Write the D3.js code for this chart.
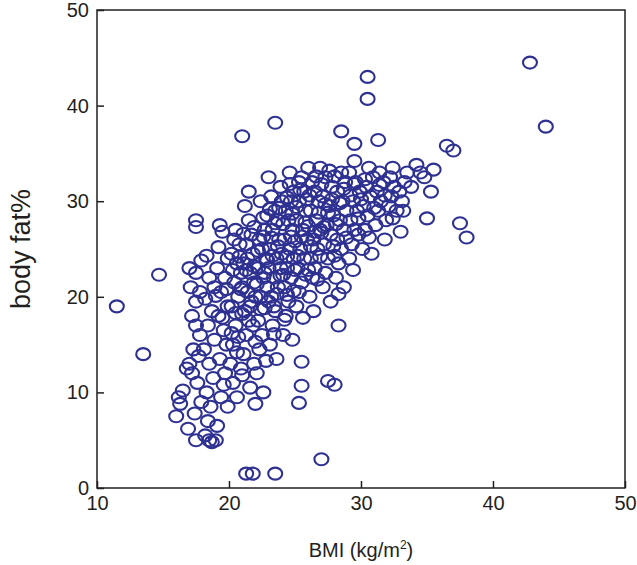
<!DOCTYPE html>
<html>
<head>
<script src="https://cdn.jsdelivr.net/npm/d3@7"></script>
<style>body{margin:0;background:#fff;} text{font-family:"Liberation Sans",Arial,sans-serif;fill:#231f20;}</style>
</head>
<body>
<svg id="chart" width="637" height="565"></svg>
<script>
// estimated readings (BMI, body fat%)
const outliers = [[11.5,19],[13.5,14],[14.7,22.3],[42.8,44.5],[44,37.8],[30.5,43],[30.5,40.7],[23.5,38.2],[21,36.8],
  [21.3,1.5],[21.8,1.5],[23.5,1.5],[27,3],[36.5,35.8],[37,35.3],[35.5,33.3],[35,28.2],[37.5,27.7],[38,26.2],
  [31.3,36.4],[28.5,37.3],[29.5,36],[29.5,34.2],[27.5,11.2],[28,10.8],[28.3,17],[25.5,10.7],[25.3,8.9],[25.5,13.2],
  [22,8.8],[17.5,28],[17.5,27.3],[16,7.5],[16.3,8.8],[17.5,5],[18.5,5],[19,5],[26,33.5],[25.3,32],[23,32.5],[24,30]];
const band16 = [[16.2,9.5],[16.5,10.2],[16.8,12.5],[17,13],[17.2,12],[17.3,14.5],[17.5,17],[17.2,18],[17.5,19.5],[17.8,20.5],
  [17,23],[17.5,22.5],[17.8,16],[17.6,11],[17.9,9],[17.4,7.8],[16.9,6.2],[17.7,13.8],[17.1,21],[17.9,23.8]];
const band18 = [[18.2,5.5],[18.4,7],[18.6,8.5],[18.3,10],[18.8,11.5],[18.5,13],[18.1,14.5],[18.9,15.5],[18.4,17],[18.7,18.5],
  [18.2,19.8],[18.9,21],[18.5,22],[18.3,24.3],[19.2,25.2],[19.5,26.8],[19.1,6.5],[19.4,9.5],[19.7,12],[19.3,13.5],[19.8,15],
  [19.6,16.5],[19.2,18],[19.9,19],[19.4,20.5],[19.7,22],[19.1,23],[19.9,24],[19.6,10.8],[19.9,8.5],[18.7,4.8],[19.3,27.5]];
const band20 = [[20.1,13],[20.3,15],[20.5,17],[20.2,19],[20.7,20],[20.4,21.5],[20.9,22.5],[20.6,23.5],[20.2,24.5],[20.8,25.5],
  [20.5,27],[20.3,11],[20.6,9.5],[20.9,12.5],[21.1,14],[21.3,16],[21.5,17.5],[21.2,18.5],[21.7,19.5],[21.4,20.5],[21.9,21.5],
  [21.6,22.5],[21.1,23.5],[21.8,24.5],[21.3,25.5],[21.7,26.5],[21.5,28],[21.2,29.5],[21.9,13],[21.6,10.5],[20.7,15.8],
  [21,18.2],[21.4,24],[21.8,17],[20.4,26],[21,21],[22,20],[21.5,31]];
const band22 = [[22.1,12],[22.3,14.5],[22.5,16],[22.2,17.5],[22.7,18.8],[22.4,20],[22.9,21],[22.6,22],[22.2,23],[22.8,24],
  [22.5,25],[22.3,26],[22.7,27],[22.9,28.5],[22.4,30],[23.1,15],[23.3,17],[23.5,18.5],[23.2,20],[23.7,21],[23.4,22],[23.9,23],
  [23.6,24],[23.1,25],[23.8,26],[23.3,27],[23.7,28],[23.5,29],[23.2,30.5],[23.9,31.5],[23.4,19],[23.6,13.5],[22.6,10],
  [23,19.5],[22.9,23.8],[23.7,25.3]];
const band24 = [[24.1,16],[24.3,18],[24.5,19.5],[24.2,21],[24.7,22],[24.4,23],[24.9,24],[24.6,25],[24.2,26],[24.8,27],
  [24.5,28],[24.3,29],[24.7,30],[24.9,31],[25.1,19],[25.3,20.5],[25.5,21.5],[25.2,23],[25.7,24],[25.4,25],[25.9,26],
  [25.6,27],[25.1,28],[25.8,29],[25.3,30],[25.7,31],[25.5,32.5],[24.6,33],[25.8,22.3],[24.4,20.2],[25,25.8],[24,24.5],
  [25.6,17.8],[24.8,15.5]];
const band26 = [[26.1,20],[26.3,22],[26.5,23],[26.2,24],[26.7,25],[26.4,26],[26.9,27],[26.6,28],[26.2,29],[26.8,30],
  [26.5,31],[26.3,32],[26.9,33.5],[27.1,21],[27.3,22.5],[27.5,24],[27.2,25.5],[27.7,26.5],[27.4,27.5],[27.9,28.5],
  [27.6,29.5],[27.1,30.5],[27.8,31.5],[27.3,32.5],[27.7,19.5],[26.4,18.5],[27,26.7],[26,27.4],[28,24.3]];
const band28 = [[28.1,22],[28.3,23.5],[28.5,25],[28.2,26],[28.7,27],[28.4,28],[28.9,29],[28.6,30],[28.2,31],[28.8,32],
  [28.5,33],[29.1,24],[29.3,25.5],[29.5,27],[29.2,28],[29.7,29],[29.4,30],[29.9,31],[29.6,32],[29.1,33],[29.8,26.5],
  [28.7,21],[29.4,22.8]];
const band30 = [[30.1,25],[30.3,27],[30.5,28.5],[30.2,29.5],[30.7,30.5],[30.4,31.5],[30.9,32.5],[30.6,33.5],[31.1,27.5],
  [31.3,29],[31.5,30],[31.2,31],[31.7,32],[31.4,33],[31.9,28],[32.1,29.5],[32.3,30.5],[32.5,31.5],[32.2,32.5],[32.7,29],
  [32.4,33.5],[32.9,31],[33.1,30],[33.3,32],[33.5,33],[33.8,31.5],[33.2,29],[34.5,33],[34.8,32.5],[35.3,31],[34.2,33.8],
  [33,26.8],[31.8,26],[30.8,24.5]];
// extra points filling the dense core
const core = [[20.5,18.3],[20.9,20.8],[21.3,22.8],[21.6,19],[21.9,23.2],[22.1,21.3],[22.4,18.7],[22.7,22.5],[22.2,24.8],
  [22.6,26.3],[23.0,23.0],[23.3,24.3],[23.6,20.3],[23.9,22.2],[23.2,26.2],[23.5,27.7],[23.8,29.3],[24.1,22.3],[24.4,24.2],
  [24.7,26.3],[24.1,27.6],[24.4,30.4],[24.8,28.7],[25.0,22.8],[25.2,24.3],[25.5,26.3],[25.8,27.8],[25.1,29.4],[25.4,31.2],
  [25.9,30.2],[26.0,22.8],[26.2,25.3],[26.5,26.8],[26.8,28.8],[26.1,30.6],[26.6,32.6],[26.9,24.2],[27.2,27.3],[27.5,28.8],
  [27.8,30.2],[27.3,29.7],[27.6,33.2],[27.9,25.3],[28.1,27.6],[28.4,29.8],[28.7,31.3],[28.0,32.6],[28.3,20.3],[28.9,26.2],
  [29.2,30.6],[29.5,31.8],[29.8,28.2],[30.0,30.2],[30.3,32.3],[30.6,26.2],[31.0,29.3],[31.4,31.7],[31.8,30.6],[32.4,28.2],
  [20.3,22.8],[20.8,24.2],[21.1,26.6],[20.2,16.2],[20.6,14.2],[21.0,11.8],[19.5,17.8],[19.0,20.1],[19.8,20.8],[22.0,15.3],
  [22.8,13.3],[23.4,16.1],[24.2,17.6],[24.9,20.6],[26.7,21.8],[22.6,28.3],[23.1,29.2],[21.9,27.3],[24.6,31.8],[27.0,31.8]];
const xTicks = [10,20,30,40,50];
const yTicks = [0,10,20,30,40,50];

const pts = [].concat(outliers, band16, band18, band20, band22, band24, band26, band28, band30, core);
const svg = d3.select("#chart");
const x = d3.scaleLinear().domain([10,50]).range([97,625]);
const y = d3.scaleLinear().domain([0,50]).range([488,10]);
const col = "#2e3192";

svg.append("g").selectAll("ellipse").data(pts).join("ellipse")
  .attr("cx", d => x(d[0])).attr("cy", d => y(d[1]))
  .attr("rx", 7).attr("ry", 6)
  .attr("fill", "none").attr("stroke", col).attr("stroke-width", 2.1);

svg.append("rect").attr("x",97).attr("y",10).attr("width",528).attr("height",478)
  .attr("fill","none").attr("stroke","#231f20").attr("stroke-width",1.5);

const gx = svg.append("g").attr("transform","translate(0,488)")
  .call(d3.axisBottom(x).tickValues(xTicks).tickSize(-7).tickPadding(8));
const gy = svg.append("g").attr("transform","translate(97,0)")
  .call(d3.axisLeft(y).tickValues(yTicks).tickSize(-7).tickPadding(8));
[gx,gy].forEach(g => {
  g.select(".domain").remove();
  g.selectAll("line").attr("stroke","#231f20").attr("stroke-width",1.5);
  g.selectAll("text").style("font-size","20px").attr("fill","#231f20");
});

const xl = svg.append("text").attr("x",361).attr("y",557).attr("text-anchor","middle").style("font-size","20px");
xl.append("tspan").text("BMI (kg/m");
xl.append("tspan").attr("dy",-8).style("font-size","12px").text("2");
xl.append("tspan").attr("dy",8).text(")");
svg.append("text").attr("transform","translate(30,249) rotate(-90)").attr("text-anchor","middle")
  .style("font-size","27px").text("body fat%");
</script>
</body>
</html>
